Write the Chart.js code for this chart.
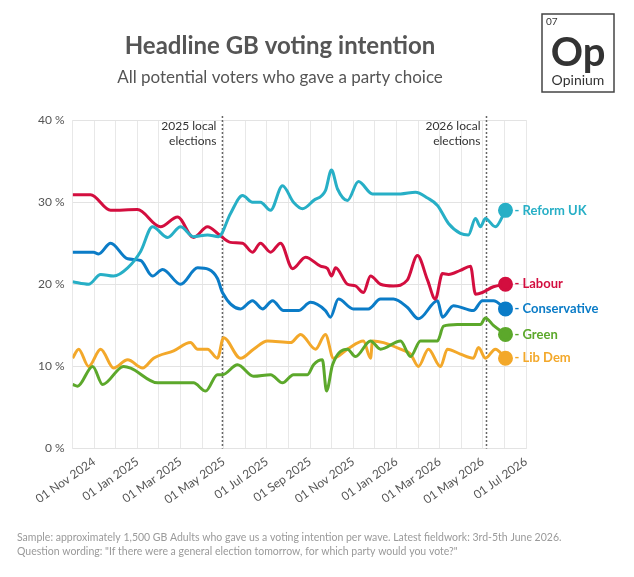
<!DOCTYPE html>
<html>
<head>
<meta charset="utf-8">
<script src="https://cdn.jsdelivr.net/npm/chart.js@4"></script>
<style>
  html, body { margin: 0; padding: 0; background: #fff; }
  #wrap { width: 634px; height: 577px; position: relative; }
</style>
</head>
<body>
<div id="wrap"><canvas id="vi"></canvas></div>
<script>
// x values are months since 1 Oct 2024 (1 = 01 Nov 2024, 7 = 01 May 2025 ...)
const reform = [[0,20.3],[0.74,20],[1.3,21.2],[1.9,21],[2.55,22],[3.15,24],[3.7,27],[4.4,25.7],[5.0,27],[5.6,25.8],[6.25,26],[6.76,25.8],[7.31,28.6],[7.87,30.8],[8.33,30],[8.7,30],[9.17,29],[9.72,32],[10.23,30],[10.65,29.2],[11.16,30.2],[11.71,31.4],[11.99,33.9],[12.27,31.6],[12.73,30.2],[13.24,32.5],[13.89,31],[14.58,31],[15.19,31],[15.88,31.2],[16.44,30.5],[16.9,29.6],[17.41,27.4],[17.96,26.2],[18.33,26],[18.66,28],[18.89,27],[19.12,28],[19.58,27],[20.05,29]];
const labour = [[0,30.9],[0.83,30.9],[1.76,29],[3.0,29.1],[4.07,27],[4.86,28.2],[5.6,25.7],[6.25,27],[6.76,26.1],[7.31,25.1],[7.87,25],[8.33,23.9],[8.7,25],[9.17,23.9],[9.63,25],[10.19,21.9],[10.79,23.3],[11.48,22.2],[11.81,21.9],[11.99,21],[12.18,22],[12.73,20],[13.1,19.8],[13.47,19],[13.8,21],[14.26,20],[14.86,19.8],[15.5,20.5],[15.97,23.5],[16.44,20.5],[16.8,18.2],[17.13,21.3],[17.41,21.2],[17.96,21.7],[18.43,22.2],[18.66,18.8],[18.98,19],[19.49,19.7],[20.05,20]];
const conservative = [[0,23.9],[0.97,23.9],[1.2,23.7],[1.76,25],[2.55,23.1],[3.15,22.9],[3.7,21],[4.17,21.8],[5.0,20],[5.79,22],[6.3,21.8],[6.71,20.7],[6.94,19],[7.78,17],[8.33,18],[8.8,17],[9.26,18],[9.77,16.8],[10.46,16.8],[11.02,17.8],[11.71,16.8],[11.94,16],[12.31,18.2],[13.0,17],[13.7,17],[14.26,18.2],[14.86,18.2],[15.5,17.2],[16.02,15.8],[16.9,18],[17.13,16],[17.64,17.4],[18.56,16.8],[18.98,18],[19.49,18],[20.05,17]];
const green = [[0,7.8],[0.23,7.6],[0.93,10],[1.39,7.8],[2.36,10],[2.69,9.8],[3.94,8],[5.6,8],[6.16,7],[6.71,9],[6.94,9],[7.64,10.2],[8.38,8.8],[9.17,9],[9.72,8],[10.23,9],[10.88,9],[11.16,10.2],[11.57,10.8],[11.76,7],[12.04,10.2],[12.73,12.1],[13.1,11.2],[13.8,13.1],[14.26,12.1],[15.19,13.1],[15.65,11.2],[16.11,13.1],[16.9,13.1],[17.18,14.9],[17.82,15.1],[18.89,15.1],[19.12,15.9],[19.49,15],[20.05,13.9]];
const libDem = [[0,11],[0.28,12.1],[0.74,10],[1.3,12.1],[1.9,9.8],[2.55,10.8],[3.24,9.8],[3.75,11],[4.68,11.9],[5.46,12.9],[5.79,12.1],[6.25,12.1],[6.71,11],[6.99,13.5],[7.78,11],[8.38,12.1],[9.03,13.1],[10.1,12.9],[10.56,13.9],[11.25,12.1],[11.71,13.9],[12.08,11],[12.73,12.1],[13.47,13.1],[13.8,11],[13.89,13.1],[14.4,12.9],[15.19,12.1],[15.65,11.5],[16.02,10],[16.48,12.1],[17.04,10],[17.36,12.1],[17.96,11.5],[18.56,11],[18.8,12.3],[19.12,11],[19.58,12.1],[20.05,11]];

const seriesNames = ['Reform UK', 'Labour', 'Conservative', 'Green', 'Lib Dem'];
const seriesData = [reform, labour, conservative, green, libDem];
const seriesColors = ['#27afc6', '#d30e3f', '#0b7cc7', '#5ca82b', '#f3a82a'];

const monthLabels = ['01 Oct 2024', '01 Nov 2024', '01 Dec 2024', '01 Jan 2025', '01 Feb 2025', '01 Mar 2025', '01 Apr 2025', '01 May 2025', '01 Jun 2025', '01 Jul 2025', '01 Aug 2025', '01 Sep 2025', '01 Oct 2025', '01 Nov 2025', '01 Dec 2025', '01 Jan 2026', '01 Feb 2026', '01 Mar 2026', '01 Apr 2026', '01 May 2026', '01 Jun 2026', '01 Jul 2026'];
const yTicks = [0, 10, 20, 30, 40];
const events = [[6.94, '2025 local', 'elections'], [19.17, '2026 local', 'elections']];

const FONT = 'Lato, "Open Sans", sans-serif';

const extras = {
  id: 'extras',
  beforeDatasetsDraw(chart) {
    const { ctx, chartArea, scales } = chart;
    ctx.save();
    events.forEach(ev => {
      const x = scales.x.getPixelForValue(ev[0]);
      ctx.strokeStyle = '#666';
      ctx.lineWidth = 1.5;
      ctx.setLineDash([2, 2]);
      ctx.beginPath();
      ctx.moveTo(x, chartArea.top - 4);
      ctx.lineTo(x, chartArea.bottom);
      ctx.stroke();
      ctx.setLineDash([]);
      ctx.fillStyle = '#333';
      ctx.font = '12px ' + FONT;
      ctx.textAlign = 'right';
      ctx.textBaseline = 'middle';
      ctx.fillText(ev[1], x - 6, chartArea.top + 6);
      ctx.fillText(ev[2], x - 6, chartArea.top + 21);
    });
    ctx.restore();
  },
  afterDraw(chart) {
    const { ctx } = chart;
    ctx.save();
    chart.data.datasets.forEach((ds, i) => {
      const meta = chart.getDatasetMeta(i);
      const p = meta.data[meta.data.length - 1];
      ctx.font = 'bold 13px ' + FONT;
      ctx.fillStyle = ds.borderColor;
      ctx.textAlign = 'left';
      ctx.textBaseline = 'middle';
      ctx.fillText('- ' + ds.label, p.x + 9, p.y);
    });
    ctx.textAlign = 'center';
    ctx.textBaseline = 'alphabetic';
    ctx.fillStyle = '#555';
    ctx.font = 'bold 24px ' + FONT;
    ctx.fillText('Headline GB voting intention', 280, 54);
    ctx.font = '17px ' + FONT;
    ctx.fillText('All potential voters who gave a party choice', 280, 83);
    ctx.strokeStyle = '#444';
    ctx.lineWidth = 1.5;
    ctx.strokeRect(542, 14, 72, 78);
    ctx.fillStyle = '#333';
    ctx.textAlign = 'left';
    ctx.font = '10px ' + FONT;
    ctx.fillText('07', 546, 25);
    ctx.textAlign = 'center';
    ctx.font = 'bold 40px ' + FONT;
    ctx.fillText('Op', 578, 66);
    ctx.font = '14px ' + FONT;
    ctx.fillText('Opinium', 578, 85);
    ctx.textAlign = 'left';
    ctx.fillStyle = '#9a9a9a';
    ctx.font = '10.5px ' + FONT;
    ctx.fillText('Sample: approximately 1,500 GB Adults who gave us a voting intention per wave. Latest fieldwork: 3rd-5th June 2026.', 17, 541);
    ctx.fillText('Question wording: "If there were a general election tomorrow, for which party would you vote?"', 17, 555);
    ctx.restore();
  }
};

new Chart(document.getElementById('vi'), {
  type: 'line',
  data: {
    datasets: seriesNames.map((name, i) => ({
      label: name,
      data: seriesData[i].map(d => ({ x: d[0], y: d[1] })),
      borderColor: seriesColors[i],
      backgroundColor: seriesColors[i],
      borderWidth: 3,
      tension: 0.4,
      cubicInterpolationMode: 'monotone',
      pointRadius: c => c.dataIndex === seriesData[i].length - 1 ? 6 : 0,
      pointHoverRadius: 0
    }))
  },
  options: {
    responsive: true,
    maintainAspectRatio: false,
    animation: false,
    layout: { padding: { top: 120, left: 30, right: 108, bottom: 64 } },
    plugins: { legend: { display: false }, tooltip: { enabled: false } },
    scales: {
      x: {
        type: 'linear',
        min: 0,
        max: 21,
        grid: { color: '#e8e8e8', drawTicks: false },
        border: { display: false },
        afterBuildTicks: s => { s.ticks = monthLabels.map((_, i) => ({ value: i })); },
        ticks: {
          autoSkip: false,
          minRotation: 35,
          maxRotation: 35,
          padding: 6,
          color: '#555',
          font: { family: FONT, size: 12 },
          callback: v => (v % 2 === 1 ? monthLabels[v] : '')
        }
      },
      y: {
        min: 0,
        max: 40,
        grid: { color: '#e3e3e3', drawTicks: false },
        border: { display: false },
        afterBuildTicks: s => { s.ticks = yTicks.map(v => ({ value: v })); },
        ticks: {
          padding: 8,
          color: '#555',
          font: { family: FONT, size: 12 },
          callback: v => v + ' %'
        }
      }
    }
  },
  plugins: [extras]
});
</script>
</body>
</html>
